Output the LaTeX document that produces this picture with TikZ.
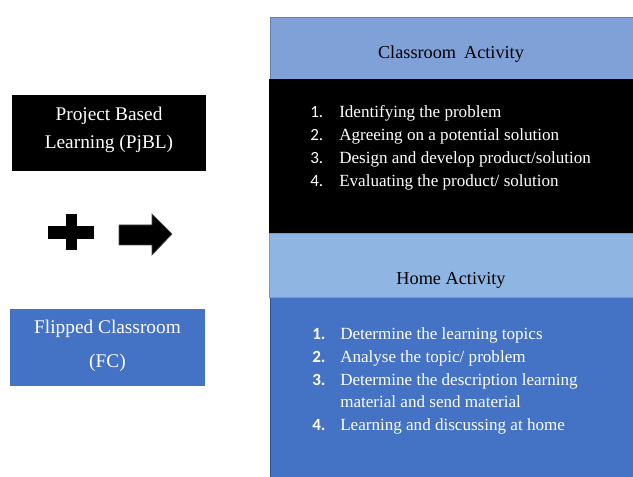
\documentclass[tikz,border=0pt]{standalone}
\usepackage{fontspec}
\setmainfont{Liberation Serif}
\newfontfamily\numfont{Carlito}
\definecolor{headblue}{RGB}{128,160,216}
\definecolor{homeblue}{RGB}{143,182,227}
\definecolor{boxblue}{RGB}{68,114,196}
\definecolor{edgeblue}{RGB}{47,82,143}
\tikzset{
  title/.style={font=\fontsize{13.7}{16}\selectfont, text=black},
  side/.style={font=\fontsize{14.5}{21}\selectfont, text=white, align=center},
  item/.style={font=\fontsize{12.8}{15}\selectfont, text=white, anchor=base west, inner sep=0pt},
  num/.style={font=\numfont\fontsize{12.8}{15}\selectfont, text=white, anchor=base west, inner sep=0pt},
  bnum/.style={num, font=\numfont\bfseries\fontsize{12.8}{15}\selectfont}
}
\begin{document}
\begin{tikzpicture}[x=0.75pt,y=-0.75pt]
\useasboundingbox (0,0) rectangle (633,477);

% left side
\fill[black] (12,95) rectangle (206,171);
\node[side] (pjbl) at (109,130) {Project Based\\Learning (PjBL)};
\fill[boxblue] (10,309) rectangle (205,386);
\node[side] (fc) at (107.5,346) {Flipped Classroom\\[5pt](FC)};

% plus and arrow
\fill[black] (48,226) rectangle (94,239);
\fill[black] (66,214) rectangle (77,250);
\filldraw[fill=black, draw=black!70, line width=0.5pt]
  (119,225) -- (152,225) -- (152,214) -- (172,234) -- (152,255) -- (152,245) -- (119,245) -- cycle;

% classroom activity
\filldraw[fill=headblue, draw=headblue!80!black, line width=0.4pt] (270,17) rectangle (633,79);
\node[title] (classroom) at (451,54) {Classroom\hspace{2.5pt} Activity};
\fill[black] (269,79) rectangle (633,233);
\node[num] (c1) at (310,118) {1.};
\node[item] (c1t) at (339,118) {Identifying the problem};
\node[num] (c2) at (310,141) {2.};
\node[item] (c2t) at (339,141) {Agreeing on a potential solution};
\node[num] (c3) at (310,164) {3.};
\node[item] (c3t) at (339,164) {Design and develop product/solution};
\node[num] (c4) at (310,187) {4.};
\node[item] (c4t) at (339,187) {Evaluating the product/ solution};

% home activity
\filldraw[fill=boxblue, draw=edgeblue, line width=0.6pt] (270,297) rectangle (633,477);
\filldraw[fill=homeblue, draw=homeblue!85!black, line width=0.4pt] (269,233) rectangle (633,297);
\node[title] (home) at (451,280) {Home Activity};
\node[bnum] (h1) at (312,340) {1.};
\node[item] (h1t) at (340,340) {Determine the learning topics};
\node[bnum] (h2) at (312,363) {2.};
\node[item] (h2t) at (340,363) {Analyse the topic/ problem};
\node[bnum] (h3) at (312,386) {3.};
\node[item] (h3t) at (340,386) {Determine the description learning};
\node[item] (h3u) at (340,408) {material and send material};
\node[bnum] (h4) at (312,431) {4.};
\node[item] (h4t) at (340,431) {Learning and discussing at home};

\end{tikzpicture}
\end{document}
